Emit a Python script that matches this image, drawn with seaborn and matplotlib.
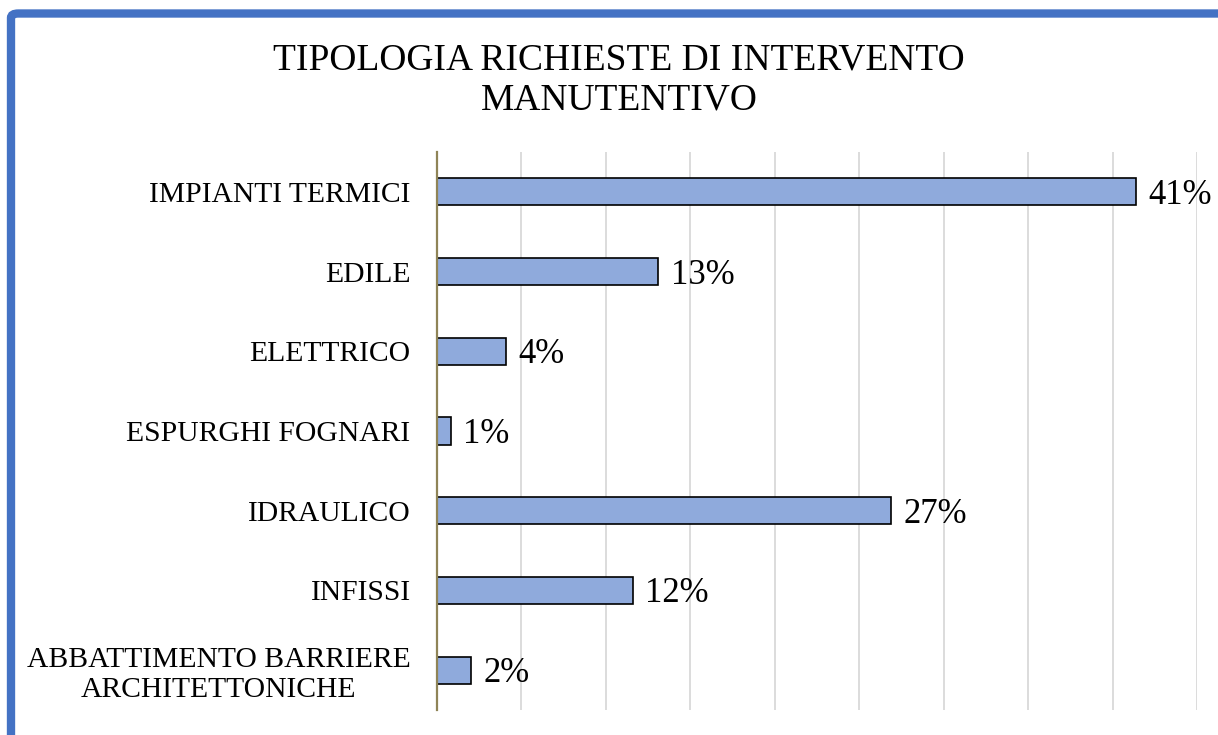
import matplotlib
matplotlib.use("Agg")
import matplotlib.pyplot as plt
from matplotlib.patches import FancyBboxPatch
import seaborn as sns
import pandas as pd

categories = ["IMPIANTI TERMICI", "EDILE", "ELETTRICO", "ESPURGHI FOGNARI",
              "IDRAULICO", "INFISSI", "ABBATTIMENTO BARRIERE\nARCHITETTONICHE"]
values = [41.4, 13.1, 4.1, 0.8, 26.9, 11.6, 2.0]
value_labels = ["41%", "13%", "4%", "1%", "27%", "12%", "2%"]
title = "TIPOLOGIA RICHIESTE DI INTERVENTO\nMANUTENTIVO"

sns.set_theme(style="white")
plt.rcParams['font.family'] = ['Liberation Serif', 'DejaVu Serif']
plt.rcParams['text.color'] = 'black'
plt.rcParams['ytick.color'] = 'black'

df = pd.DataFrame({"cat": categories, "val": values})

W, H = 1218, 735
fig = plt.figure(figsize=(W / 100, H / 100), dpi=100)
ax = fig.add_axes([437 / W, 1 - 710 / H, (1197 - 437) / W, (710 - 152) / H])

sns.barplot(data=df, y="cat", x="val", orient="h", color="#8FAADC",
            edgecolor="black", linewidth=1.2, width=0.34, saturation=1, ax=ax)

ax.set_xlim(0, 45)
ax.set_ylim(6.5, -0.5)
ax.set_xticks(range(0, 50, 5))
ax.set_xticklabels([])
ax.tick_params(axis="x", length=0)
ax.tick_params(axis="y", length=0, pad=19, labelsize=21.3, labelcolor="black")
for t in ax.get_yticklabels():
    t.set_multialignment("center")
    t.set_linespacing(1.18)
ax.xaxis.grid(True, color="#D9D9D9", linewidth=1.3)
ax.set_axisbelow(True)
ax.set_xlabel("")
ax.set_ylabel("")
for s in ["top", "right", "bottom"]:
    ax.spines[s].set_visible(False)
ax.spines["left"].set_color("#8F8457")
ax.spines["left"].set_linewidth(1.6)

for i, (v, lab) in enumerate(zip(values, value_labels)):
    ax.annotate(lab, xy=(v, i), xytext=(9, -2.5), textcoords="offset points",
                va="center", ha="left", fontsize=25, color="black")

fig.text(619 / W, 1 - 43 / H, title, ha="center", va="top", fontsize=27,
         color="black", linespacing=1.22)

border = FancyBboxPatch((11 / W, -0.2), 1.3, 1 - 13.5 / H + 0.2,
                        boxstyle="round,pad=0,rounding_size=0.006",
                        transform=fig.transFigure, facecolor="none",
                        edgecolor="#4472C4", linewidth=6, clip_on=False)
fig.patches.append(border)

fig.savefig("out.png", dpi=100)
